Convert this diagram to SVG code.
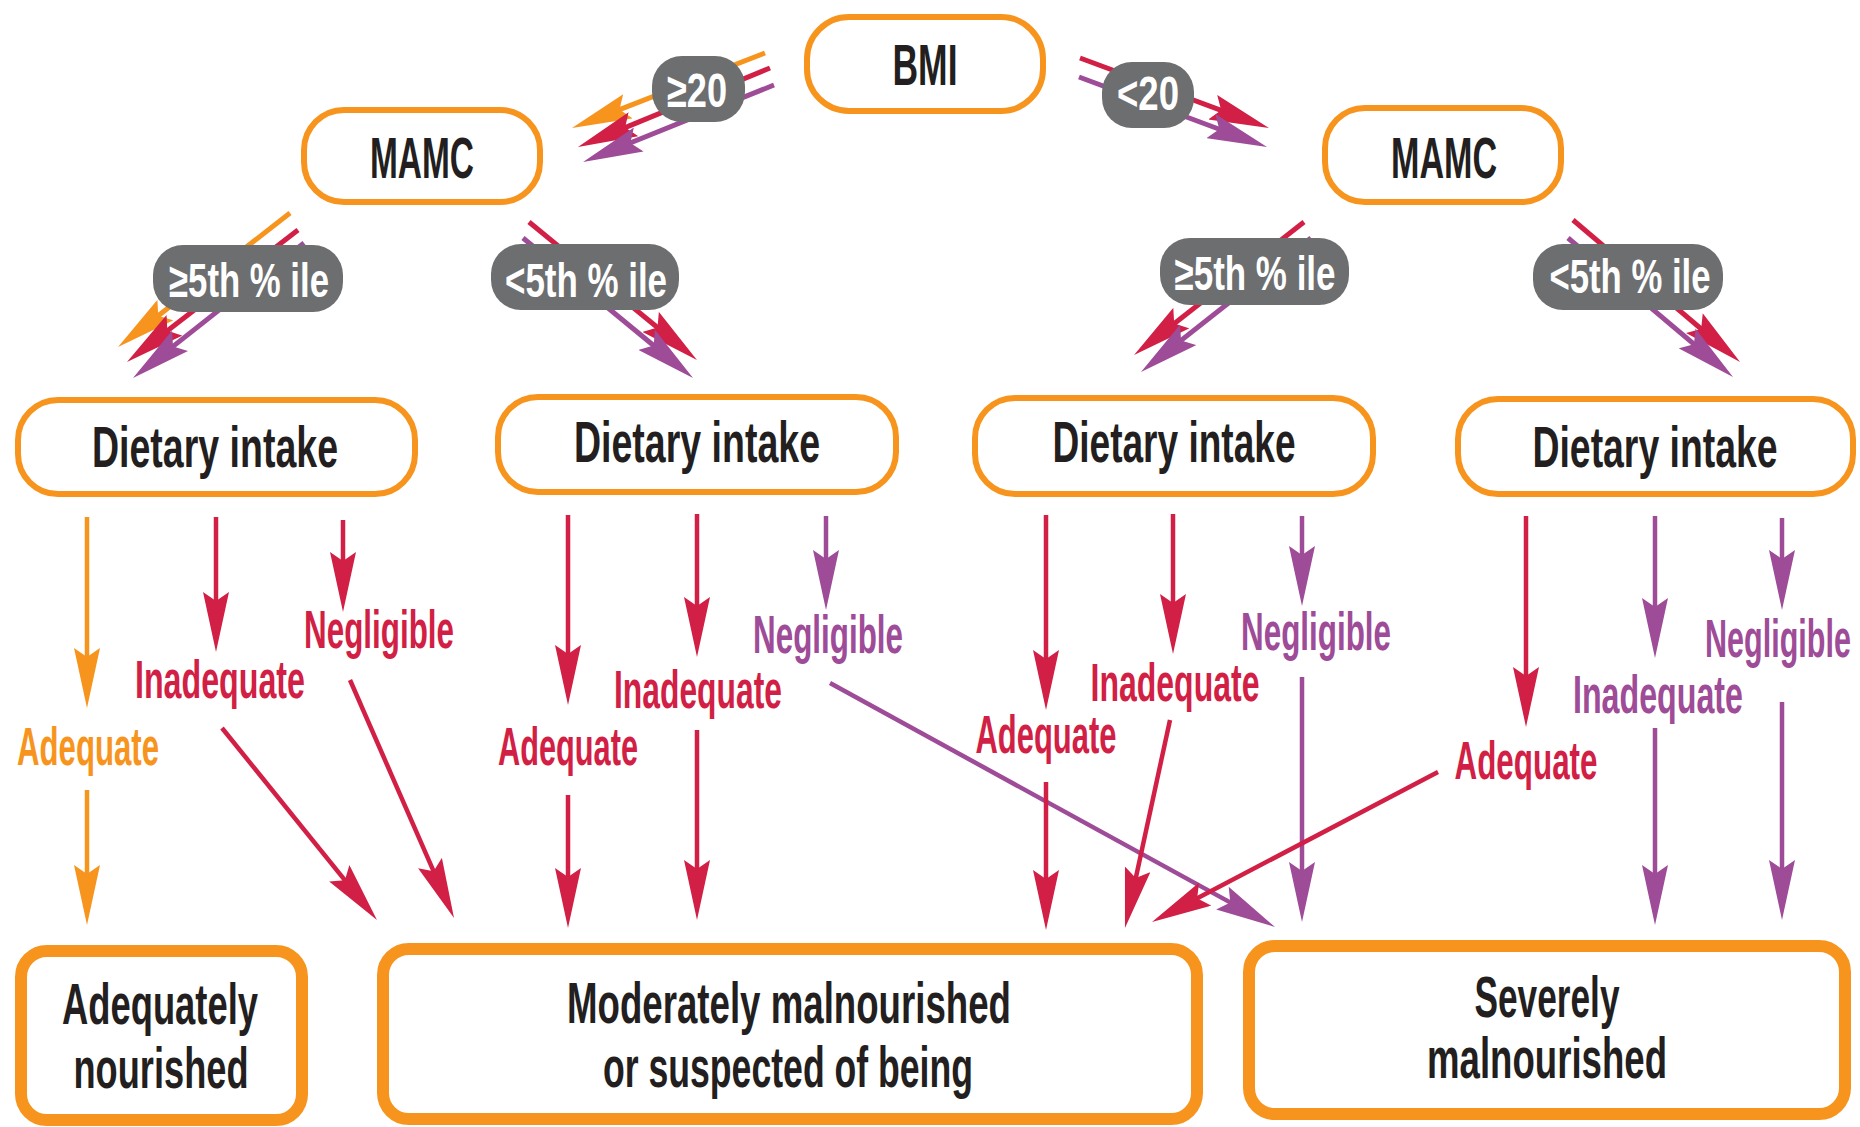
<svg xmlns="http://www.w3.org/2000/svg" width="1860" height="1127" viewBox="0 0 1860 1127">
<style>
.box{fill:#fff;stroke:#F7941D;stroke-width:6}
.bbox{fill:#fff;stroke:#F7941D;stroke-width:12}
.t{font-family:"Liberation Sans",Arial,sans-serif;font-weight:bold;fill:#231F20;text-anchor:middle;font-size:58px}
.lb{font-family:"Liberation Sans",Arial,sans-serif;font-weight:bold;text-anchor:middle;font-size:54px}
.pt{font-family:"Liberation Sans",Arial,sans-serif;font-weight:bold;fill:#fff;text-anchor:middle;font-size:48px}
.pill{fill:#6D6E70}
.o{stroke:#F7941D;fill:none}
.r{stroke:#D11F45;fill:none}
.p{stroke:#9E4B98;fill:none}
.top line{stroke-width:5}
.low line{stroke-width:4.5}
.o{marker-end:url(#ho)}
.r{marker-end:url(#hr)}
.p{marker-end:url(#hp)}
.fo{fill:#F7941D}.fr{fill:#D11F45}.fp{fill:#9E4B98}
</style>
<defs>
<marker id="ho" viewBox="0 0 60 26" markerWidth="60" markerHeight="26" refX="40" refY="13" orient="auto" markerUnits="userSpaceOnUse"><path d="M0,0 L60,13 L0,26 L9,13 z" fill="#F7941D"/></marker>
<marker id="hr" viewBox="0 0 60 26" markerWidth="60" markerHeight="26" refX="40" refY="13" orient="auto" markerUnits="userSpaceOnUse"><path d="M0,0 L60,13 L0,26 L9,13 z" fill="#D11F45"/></marker>
<marker id="hp" viewBox="0 0 60 26" markerWidth="60" markerHeight="26" refX="40" refY="13" orient="auto" markerUnits="userSpaceOnUse"><path d="M0,0 L60,13 L0,26 L9,13 z" fill="#9E4B98"/></marker>
</defs>
<rect width="1860" height="1127" fill="#fff"/>

<g id="connectors">
<g class="top">
<line class="o" x1="765" y1="53" x2="590.6" y2="120.8"/>
<line class="r" x1="770" y1="68" x2="596.5" y2="139.4"/>
<line class="p" x1="774" y1="85" x2="601.6" y2="154.5"/>
<line class="r" x1="1080" y1="58" x2="1250.2" y2="121.1"/>
<line class="p" x1="1079" y1="77" x2="1248.3" y2="140"/>
<line class="o" x1="290" y1="213" x2="133.8" y2="334.7"/>
<line class="r" x1="298" y1="230" x2="142.8" y2="349.8"/>
<line class="p" x1="304" y1="243" x2="148.7" y2="365.6"/>
<line class="r" x1="529" y1="222" x2="681.5" y2="347.3"/>
<line class="p" x1="523" y1="238" x2="677.6" y2="365.3"/>
<line class="r" x1="1304" y1="222" x2="1149.8" y2="342.7"/>
<line class="p" x1="1311" y1="238" x2="1156.7" y2="359.6"/>
<line class="r" x1="1573" y1="220" x2="1724.8" y2="349"/>
<line class="p" x1="1568" y1="238" x2="1717.7" y2="364.1"/>
</g>
<g class="low">
<line class="o" x1="87" y1="517" x2="87" y2="688"/>
<line class="o" x1="87" y1="790" x2="87" y2="905"/>
<line class="r" x1="216" y1="517" x2="216" y2="632"/>
<line class="r" x1="343" y1="520" x2="343" y2="592"/>
<line class="r" x1="222" y1="728" x2="364.4" y2="904.4"/>
<line class="r" x1="350" y1="680" x2="446" y2="899.7"/>
<line class="r" x1="568" y1="515" x2="568" y2="685"/>
<line class="r" x1="568" y1="795" x2="568" y2="908"/>
<line class="r" x1="697" y1="514" x2="697" y2="637"/>
<line class="r" x1="697" y1="730" x2="697" y2="900"/>
<line class="p" x1="826" y1="516" x2="826" y2="590"/>
<line class="p" x1="830" y1="683" x2="1257.5" y2="917.4"/>
<line class="r" x1="1046" y1="515" x2="1046" y2="690"/>
<line class="r" x1="1046" y1="782" x2="1046" y2="910"/>
<line class="r" x1="1173" y1="514" x2="1173" y2="634"/>
<line class="r" x1="1170" y1="720" x2="1129.2" y2="908.4"/>
<line class="p" x1="1302" y1="516" x2="1302" y2="586"/>
<line class="p" x1="1302" y1="677" x2="1302" y2="902"/>
<line class="r" x1="1526" y1="516" x2="1526" y2="707"/>
<line class="r" x1="1438" y1="772" x2="1169.7" y2="912.7"/>
<line class="p" x1="1655" y1="516" x2="1655" y2="638"/>
<line class="p" x1="1655" y1="728" x2="1655" y2="905"/>
<line class="p" x1="1782" y1="518" x2="1782" y2="590"/>
<line class="p" x1="1782" y1="702" x2="1782" y2="900"/>
</g>
<g id="edge-labels">
<rect class="pill" x="652" y="56" width="93" height="66" rx="30"/>
<text class="pt" x="697" y="107" textLength="60" lengthAdjust="spacingAndGlyphs">≥20</text>
<rect class="pill" x="1102" y="62" width="92" height="66" rx="30"/>
<text class="pt" x="1148" y="110" textLength="62" lengthAdjust="spacingAndGlyphs">&lt;20</text>
<rect class="pill" x="153" y="245" width="190" height="67" rx="30"/>
<text class="pt" x="249" y="297" textLength="160" lengthAdjust="spacingAndGlyphs">≥5th % ile</text>
<rect class="pill" x="491" y="244" width="188" height="66" rx="30"/>
<text class="pt" x="586" y="297" textLength="162" lengthAdjust="spacingAndGlyphs">&lt;5th % ile</text>
<rect class="pill" x="1160" y="238" width="189" height="67" rx="30"/>
<text class="pt" x="1255" y="290" textLength="161" lengthAdjust="spacingAndGlyphs">≥5th % ile</text>
<rect class="pill" x="1533" y="244" width="190" height="66" rx="30"/>
<text class="pt" x="1630" y="293" textLength="161" lengthAdjust="spacingAndGlyphs">&lt;5th % ile</text>

<text class="lb fo" x="88" y="765" textLength="142" lengthAdjust="spacingAndGlyphs">Adequate</text>
<text class="lb fr" x="220" y="698" textLength="170" lengthAdjust="spacingAndGlyphs">Inadequate</text>
<text class="lb fr" x="379" y="648" textLength="150" lengthAdjust="spacingAndGlyphs">Negligible</text>
<text class="lb fr" x="568" y="765" textLength="140" lengthAdjust="spacingAndGlyphs">Adequate</text>
<text class="lb fr" x="698" y="708" textLength="168" lengthAdjust="spacingAndGlyphs">Inadequate</text>
<text class="lb fp" x="828" y="653" textLength="150" lengthAdjust="spacingAndGlyphs">Negligible</text>
<text class="lb fr" x="1046" y="753" textLength="141" lengthAdjust="spacingAndGlyphs">Adequate</text>
<text class="lb fr" x="1175" y="701" textLength="169" lengthAdjust="spacingAndGlyphs">Inadequate</text>
<text class="lb fp" x="1316" y="650" textLength="150" lengthAdjust="spacingAndGlyphs">Negligible</text>
<text class="lb fr" x="1526" y="779" textLength="143" lengthAdjust="spacingAndGlyphs">Adequate</text>
<text class="lb fp" x="1658" y="713" textLength="170" lengthAdjust="spacingAndGlyphs">Inadequate</text>
<text class="lb fp" x="1778" y="657" textLength="146" lengthAdjust="spacingAndGlyphs">Negligible</text>
</g>
</g>

<g id="bmi">
<rect class="box" x="807" y="17" width="236" height="94" rx="42"/>
<text class="t" x="925" y="85" textLength="65" lengthAdjust="spacingAndGlyphs">BMI</text>
</g>
<g id="mamc-left">
<rect class="box" x="304" y="110" width="236" height="92" rx="40"/>
<text class="t" x="422" y="178" textLength="104" lengthAdjust="spacingAndGlyphs">MAMC</text>
</g>
<g id="mamc-right">
<rect class="box" x="1325" y="108" width="236" height="94" rx="40"/>
<text class="t" x="1444" y="178" textLength="106" lengthAdjust="spacingAndGlyphs">MAMC</text>
</g>
<g id="diet-1">
<rect class="box" x="18" y="400" width="397" height="94" rx="40"/>
<text class="t" x="215" y="467" textLength="246" lengthAdjust="spacingAndGlyphs">Dietary intake</text>
</g>
<g id="diet-2">
<rect class="box" x="498" y="397" width="398" height="95" rx="40"/>
<text class="t" x="697" y="462" textLength="246" lengthAdjust="spacingAndGlyphs">Dietary intake</text>
</g>
<g id="diet-3">
<rect class="box" x="975" y="398" width="398" height="96" rx="40"/>
<text class="t" x="1174" y="462" textLength="243" lengthAdjust="spacingAndGlyphs">Dietary intake</text>
</g>
<g id="diet-4">
<rect class="box" x="1458" y="399" width="395" height="95" rx="40"/>
<text class="t" x="1655" y="467" textLength="245" lengthAdjust="spacingAndGlyphs">Dietary intake</text>
</g>
<g id="adequately-nourished">
<rect class="bbox" x="21" y="951" width="281" height="169" rx="26"/>
<text class="t" x="160" y="1024" textLength="196" lengthAdjust="spacingAndGlyphs">Adequately</text>
<text class="t" x="161" y="1088" textLength="175" lengthAdjust="spacingAndGlyphs">nourished</text>
</g>
<g id="moderately-malnourished">
<rect class="bbox" x="383" y="949" width="814" height="170" rx="26"/>
<text class="t" x="789" y="1023" textLength="444" lengthAdjust="spacingAndGlyphs">Moderately malnourished</text>
<text class="t" x="788" y="1087" textLength="370" lengthAdjust="spacingAndGlyphs">or suspected of being</text>
</g>
<g id="severely-malnourished">
<rect class="bbox" x="1249" y="946" width="596" height="168" rx="26"/>
<text class="t" x="1547" y="1017" textLength="145" lengthAdjust="spacingAndGlyphs">Severely</text>
<text class="t" x="1547" y="1078" textLength="240" lengthAdjust="spacingAndGlyphs">malnourished</text>
</g>
</svg>
